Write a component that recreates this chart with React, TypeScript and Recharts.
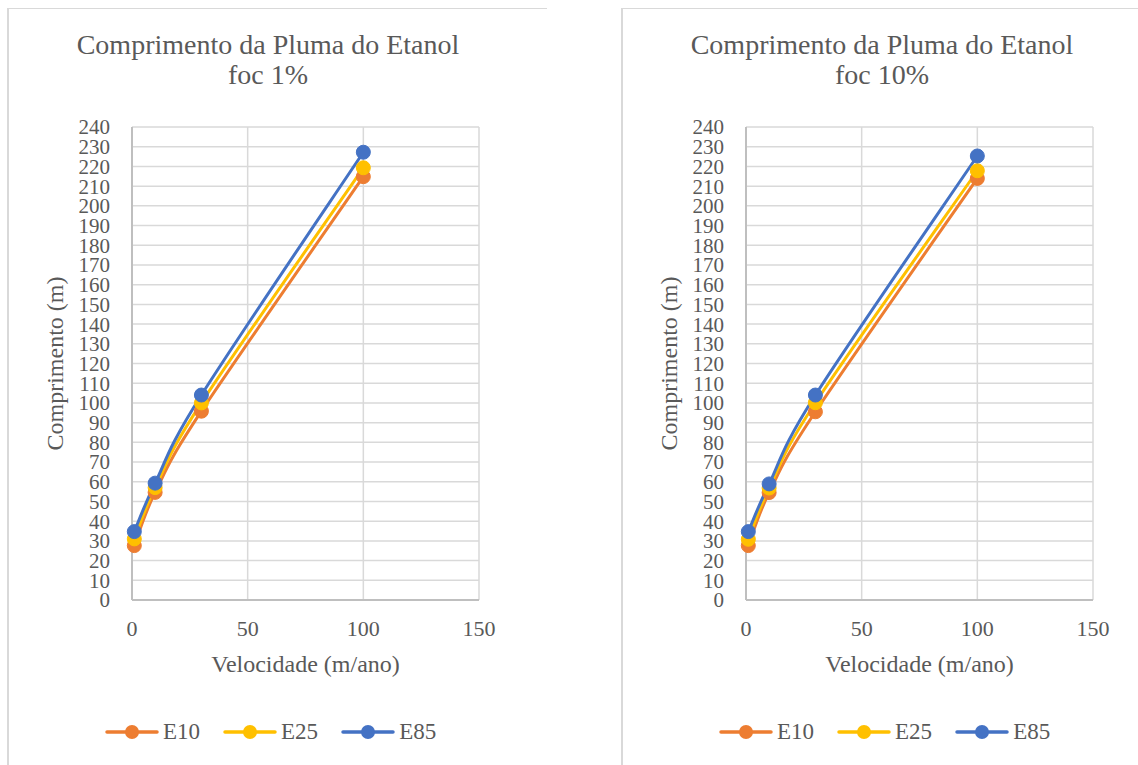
import React from 'react';
import { LineChart, Line, XAxis, YAxis, CartesianGrid, Legend } from 'recharts';

// Values
const velocidade = [1, 10, 30, 100];

const e10Foc1 = [27.6, 54.6, 95.8, 214.8];
const e25Foc1 = [31.0, 57.0, 100.0, 219.3];
const e85Foc1 = [34.7, 59.3, 104.0, 227.2];

const e10Foc10 = [27.6, 54.5, 95.5, 213.9];
const e25Foc10 = [30.8, 56.8, 100.1, 217.8];
const e85Foc10 = [34.7, 58.9, 104.0, 225.3];

const xTicks = [0, 50, 100, 150];
const yTicks = [
  0, 10, 20, 30, 40, 50, 60, 70, 80, 90, 100, 110, 120,
  130, 140, 150, 160, 170, 180, 190, 200, 210, 220, 230, 240
];

const seriesNames = ['E10', 'E25', 'E85'];
const COLORS = ['#ED7D31', '#FFC000', '#4472C4'];

const FONT = '"Liberation Serif", "Times New Roman", Tinos, "DejaVu Serif", serif';
const TEXT = '#595959';

const buildRows = (e10: number[], e25: number[], e85: number[]) =>
  velocidade.map((v, i) => ({ v, E10: e10[i], E25: e25[i], E85: e85[i] }));

const panels = [
  { title: 'foc 1%', left: 7, rows: buildRows(e10Foc1, e25Foc1, e85Foc1) },
  { title: 'foc 10%', left: 621, rows: buildRows(e10Foc10, e25Foc10, e85Foc10) }
];

// Excel-style smoothed line (Catmull-Rom as cubic bezier)
const excelSmooth = (context: any) => {
  let pts: number[][] = [];
  return {
    areaStart() {},
    areaEnd() {},
    lineStart() {
      pts = [];
    },
    point(x: number, y: number) {
      pts.push([+x, +y]);
    },
    lineEnd() {
      if (!pts.length) return;
      context.moveTo(pts[0][0], pts[0][1]);
      for (let i = 0; i < pts.length - 1; i++) {
        const p0 = pts[i - 1] || pts[i];
        const p1 = pts[i];
        const p2 = pts[i + 1];
        const p3 = pts[i + 2] || p2;
        context.bezierCurveTo(
          p1[0] + (p2[0] - p0[0]) / 6,
          p1[1] + (p2[1] - p0[1]) / 6,
          p2[0] - (p3[0] - p1[0]) / 6,
          p2[1] - (p3[1] - p1[1]) / 6,
          p2[0],
          p2[1]
        );
      }
    }
  };
};

const YTitle = (props: any) => {
  const vb = props.viewBox || {};
  const cx = 56;
  const cy = (vb.y ?? 127) + (vb.height ?? 473) / 2;
  return (
    <text
      x={cx}
      y={cy}
      transform={`rotate(-90 ${cx} ${cy})`}
      textAnchor="middle"
      fill={TEXT}
      style={{ fontFamily: FONT, fontSize: 24 }}
    >
      Comprimento (m)
    </text>
  );
};

const XTitle = (props: any) => {
  const vb = props.viewBox || {};
  const cx = (vb.x ?? 125) + (vb.width ?? 347) / 2;
  const cy = (vb.y ?? 600) + 72;
  return (
    <text x={cx} y={cy} textAnchor="middle" fill={TEXT} style={{ fontFamily: FONT, fontSize: 24 }}>
      Velocidade (m/ano)
    </text>
  );
};

const renderLegend = () => (
  <div style={{ display: 'flex', alignItems: 'center', paddingLeft: 98, height: 30 }}>
    {seriesNames.map((name, i) => (
      <div key={name} style={{ display: 'flex', alignItems: 'center', marginRight: 23 }}>
        <svg width={54} height={18}>
          <line x1={2} y1={9} x2={52} y2={9} stroke={COLORS[i]} strokeWidth={3.5} strokeLinecap="round" />
          <circle cx={27} cy={9} r={7} fill={COLORS[i]} />
        </svg>
        <span style={{ marginLeft: 4, fontSize: 23, color: TEXT, fontFamily: FONT, lineHeight: '30px' }}>
          {name}
        </span>
      </div>
    ))}
  </div>
);

const Panel = ({ title, left, rows }: { title: string; left: number; rows: any[] }) => (
  <div
    style={{
      position: 'absolute',
      left,
      top: 8,
      width: 540,
      height: 800,
      borderTop: '1px solid #D9D9D9',
      borderLeft: '2px solid #D9D9D9',
      boxSizing: 'border-box'
    }}
  >
    <div
      style={{
        position: 'absolute',
        left: 0,
        top: 21,
        width: 518,
        textAlign: 'center',
        fontFamily: FONT,
        fontSize: 28,
        lineHeight: '30px',
        color: TEXT
      }}
    >
      Comprimento da Pluma do Etanol
      <br />
      {title}
    </div>
    <div style={{ position: 'absolute', left: -2, top: -9 }}>
      <LineChart
        width={510}
        height={765}
        data={rows}
        margin={{ top: 127, right: 38, left: 0, bottom: 85 }}
      >
        <CartesianGrid stroke="#D9D9D9" strokeWidth={1.5} />
        <XAxis
          dataKey="v"
          type="number"
          domain={[0, 150]}
          ticks={xTicks}
          height={80}
          tickLine={false}
          tickSize={0}
          tickMargin={20}
          axisLine={{ stroke: '#BFBFBF', strokeWidth: 2 }}
          tick={{ fill: TEXT, fontSize: 22, fontFamily: FONT }}
          label={<XTitle />}
        />
        <YAxis
          type="number"
          domain={[0, 240]}
          ticks={yTicks}
          interval={0}
          width={125}
          tickLine={false}
          tickSize={0}
          tickMargin={22}
          axisLine={{ stroke: '#BFBFBF', strokeWidth: 2 }}
          tick={{ fill: TEXT, fontSize: 21, fontFamily: FONT }}
          label={<YTitle />}
        />
        <Legend
          layout="horizontal"
          align="center"
          verticalAlign="middle"
          content={renderLegend}
          wrapperStyle={{ top: 717, left: 0, width: 510 }}
        />
        {seriesNames.map((name, i) => (
          <Line
            key={name}
            dataKey={name}
            type={excelSmooth as any}
            stroke={COLORS[i]}
            strokeWidth={3}
            dot={{ r: 7, fill: COLORS[i], stroke: COLORS[i], strokeWidth: 1 }}
            activeDot={false}
            isAnimationActive={false}
          />
        ))}
      </LineChart>
    </div>
  </div>
);

export default function App() {
  return (
    <div style={{ position: 'absolute', left: 0, top: 0, width: 1138, height: 765, overflow: 'hidden', background: '#fff' }}>
      {panels.map((p) => (
        <Panel key={p.title} {...p} />
      ))}
    </div>
  );
}
